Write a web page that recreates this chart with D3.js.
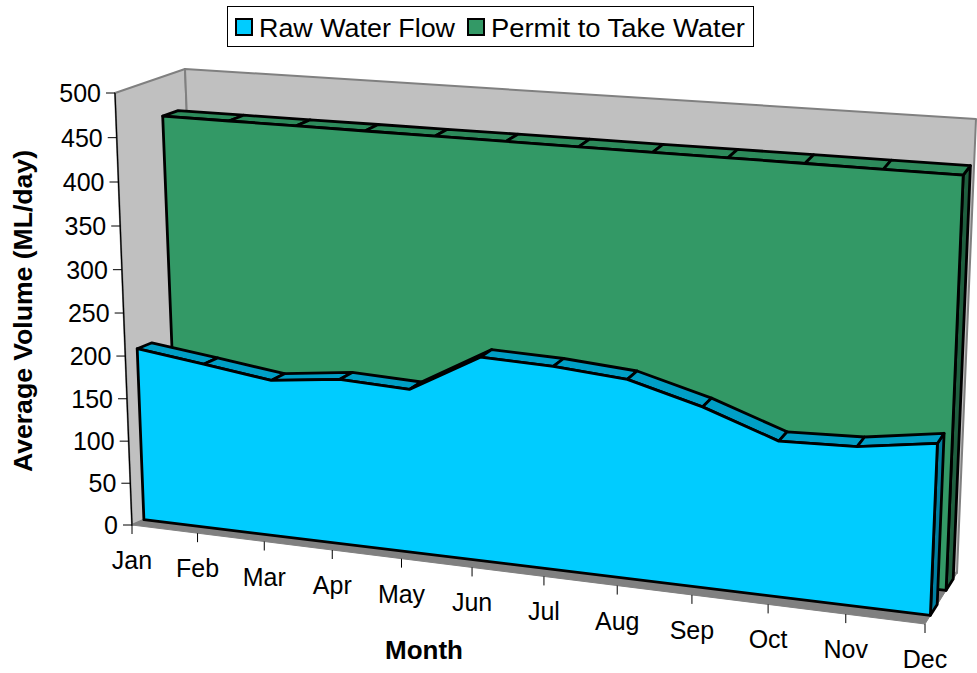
<!DOCTYPE html>
<html><head><meta charset="utf-8">
<script src="https://cdn.jsdelivr.net/npm/d3@7"></script>
<style>html,body{margin:0;padding:0;background:#fff}svg{display:block;font-family:"Liberation Sans",Arial,sans-serif}</style>
</head><body><svg id="c" width="977" height="673"></svg>
<script>
const months=["Jan","Feb","Mar","Apr","May","Jun","Jul","Aug","Sep","Oct","Nov","Dec"];
const rawWaterFlow=[203,193,182.5,192,189,234,232,226,204,175,178,191];
const permitToTake=[456,456,456,456,456,456,456,456,456,456,456,456];
const yTicks=[0,50,100,150,200,250,300,350,400,450,500];
const seriesNames=["Raw Water Flow","Permit to Take Water"];

const svg=d3.select("#c");
// Frame of the 3D box (x: month, v: value, z: depth)
const FBL=[132,525],FTL=[115,93],FBR=[925,624],FTR=[943.5,162],
      BBL=[202,494],BTL=[185,69],BBR=[957,573],BTR=[976,119];
const sx=d3.scaleLinear().domain([0,11]).range([0,1]);
const sv=d3.scaleLinear().domain([0,500]).range([0,1]);
const sz=d3.scaleLinear().domain([0,1]).range([0,1]);
const warp=(t,k)=>t/(1+k*(1-t));
const mix=(a,b,t)=>[a[0]+(b[0]-a[0])*t,a[1]+(b[1]-a[1])*t];
function P(i,val,d){
  const t=warp(sx(i),0.11),v=warp(sv(val),0.038),z=sz(d);
  const fb=mix(FBL,FBR,t),ft=mix(FTL,FTR,t),bb=mix(BBL,BBR,t),bt=mix(BTL,BTR,t);
  return mix(mix(fb,ft,v),mix(bb,bt,v),z);
}
const poly=(pts,fill,stroke,w)=>svg.append("path").attr("d","M"+pts.map(p=>p.map(n=>n.toFixed(1)).join(",")).join("L")+"Z")
  .attr("fill",fill).attr("stroke",stroke||"none").attr("stroke-width",w||0).attr("stroke-linejoin","round");
const line=(a,b,c,w)=>svg.append("line").attr("x1",a[0]).attr("y1",a[1]).attr("x2",b[0]).attr("y2",b[1]).attr("stroke",c).attr("stroke-width",w);

// Walls and floor
poly([FBL,FTL,BTL,BBL],"#c0c0c0","#808080",2);
poly([BBL,BTL,BTR,BBR],"#c0c0c0","#808080",2);
poly([FBL,FBR,BBR,BBL],"#808080","#808080",1);

function area(vals,z0,z1,cFront,cTop,cSide){
  const n=vals.length-1;
  poly([P(n,0,z0),P(n,vals[n],z0),P(n,vals[n],z1),P(n,0,z1)],cSide,"#000",2.8);
  vals.forEach((v,i)=>{ if(i<n) poly([P(i,v,z0),P(i+1,vals[i+1],z0),P(i+1,vals[i+1],z1),P(i,v,z1)],cTop,"#000",2.8); });
  const pts=[P(0,0,z0)].concat(vals.map((v,i)=>P(i,v,z0)),[P(n,0,z0)]);
  poly(pts,cFront,"#000",2.8);
}
area(permitToTake,0.66,0.88,"#339966","#2d8a5b","#1f5f3f");
area(rawWaterFlow,0.17,0.38,"#00ccff","#009fc6","#007fa0");

// Y axis
line(FBL,FTL,"#000",1.2);
yTicks.forEach(v=>{
  const p=P(0,v,0);
  line([p[0]-9,p[1]],p,"#000",1);
  svg.append("text").attr("x",p[0]-14).attr("y",p[1]+9).attr("text-anchor","end").attr("font-size",25).attr("fill","#000").text(v);
});
// X axis
months.forEach((m,i)=>{
  const p=P(i,0,0);
  line(p,[p[0],p[1]+9],"#000",1);
  svg.append("text").attr("x",p[0]).attr("y",p[1]+44).attr("text-anchor","middle").attr("font-size",25).attr("fill","#000").text(m);
});
// Titles
svg.append("text").attr("x",424).attr("y",659).attr("text-anchor","middle").attr("font-size",26).attr("font-weight","bold").text("Month");
svg.append("text").attr("transform","translate(32,311) rotate(-90)").attr("text-anchor","middle").attr("font-size",25).attr("font-weight","bold")
  .attr("textLength",322).attr("lengthAdjust","spacingAndGlyphs").text("Average Volume (ML/day)");
// Legend
svg.append("rect").attr("x",227.5).attr("y",6.5).attr("width",526).attr("height",40).attr("fill","#fff").attr("stroke","#000").attr("stroke-width",1);
[[236,"#00ccff",259,196],[468,"#339966",491,254]].forEach((d,i)=>{
  svg.append("rect").attr("x",d[0]).attr("y",19).attr("width",16).attr("height",16).attr("fill",d[1]).attr("stroke","#000").attr("stroke-width",2);
  svg.append("text").attr("x",d[2]).attr("y",37).attr("font-size",25.5).attr("fill","#000")
    .attr("textLength",d[3]).attr("lengthAdjust","spacingAndGlyphs").text(seriesNames[i]);
});
</script></body></html>
